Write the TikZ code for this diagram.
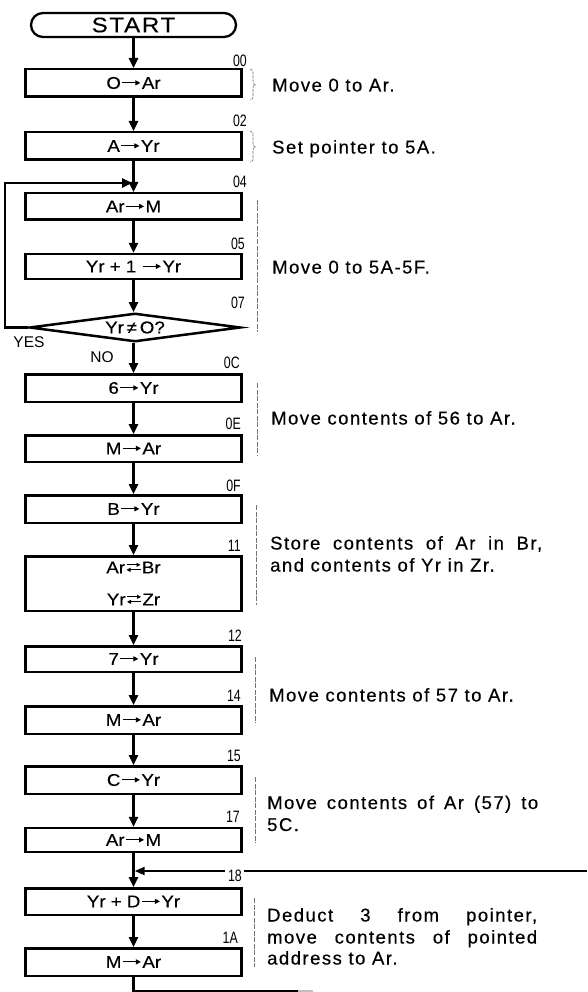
\documentclass[tikz,border=0pt]{standalone}
\usepackage{fontspec}
\setmainfont{Liberation Sans}
\newfontfamily\boxfont{Liberation Sans}[FakeStretch=1.1,FakeBold=0.4]
\newfontfamily\descfont{Liberation Sans}[LetterSpace=8,FakeBold=0.4]
\newfontfamily\numfont{Liberation Sans}[FakeStretch=0.75]
\newfontfamily\startfont{Liberation Sans}[FakeStretch=1.15,LetterSpace=8,FakeBold=0.3]
\usetikzlibrary{arrows.meta,shapes.geometric,shapes.misc}
\newcommand\myto{\kern1pt\tikz[baseline={(0,-6pt)}]\draw[line width=1pt,-{Triangle[length=5pt,width=5pt]}] (0pt,0pt) -- (18pt,0pt);\kern1pt}
\newcommand\myxch{\kern1pt\tikz[baseline={(0,-6pt)}]{\draw[line width=0.9pt,-{Triangle[length=4pt,width=4pt]}] (0pt,2.5pt) -- (14pt,2.5pt);\draw[line width=0.9pt,-{Triangle[length=4pt,width=4pt]}] (14pt,-2.5pt) -- (0pt,-2.5pt);}\kern1pt}
\begin{document}
\begin{tikzpicture}[x=1pt,y=-1pt,
  proc/.style={draw, line width=2.5pt, minimum width=216pt, inner sep=0pt, font=\boxfont\fontsize{17}{17}\selectfont},
  term/.style={draw, rounded rectangle, line width=2.3pt, minimum width=205pt, minimum height=24pt, inner sep=0pt, font=\startfont\fontsize{21}{21}\selectfont},
  decis/.style={draw, diamond, aspect=7, line width=2.5pt, minimum width=211pt, minimum height=28.5pt, inner sep=0pt, font=\boxfont\fontsize{17}{17}\selectfont},
  flow/.style={line width=2.4pt, -{Triangle[length=10pt,width=9pt]}},
  plain/.style={line width=2.2pt},
  addr/.style={font=\numfont\fontsize{16.5}{16.5}\selectfont, anchor=east, inner sep=0pt},
  yn/.style={font=\fontsize{15.5}{15.5}\selectfont, inner sep=0pt},
  desc/.style={font=\descfont\fontsize{18.5}{22}\selectfont, anchor=base west, inner sep=0pt},
  brk/.style={line width=0.7pt, black!55, dash pattern=on 5pt off 1.5pt},
  brace/.style={line width=0.6pt, black!55, dash pattern=on 3pt off 1pt}]
\path[fill=white] (0,0) rectangle (587,992);
\useasboundingbox (0,0) rectangle (587,992);

% nodes
\node[term] (start) at (133.5,25) {START};
\node[proc, minimum height=27.5pt] (b1) at (133.5,83) {O\myto Ar};
\node[proc, minimum height=27.5pt] (b2) at (133.5,146) {A\myto Yr};
\node[proc, minimum height=26.5pt] (b3) at (133.5,206.5) {Ar\myto M};
\node[proc, minimum height=25pt] (b4) at (133.5,266.5) {Yr + 1 \myto Yr};
\node[decis] (dec) at (135,327.5) {Yr\,≠\,O?};
\node[proc, minimum height=27.5pt] (b5) at (133.5,388) {6\myto Yr};
\node[proc, minimum height=26.5pt] (b6) at (133.5,448.5) {M\myto Ar};
\node[proc, minimum height=27.5pt] (b7) at (133.5,509) {B\myto Yr};
\node[proc, minimum height=54.5pt, align=center] (b8) at (133.5,583.5) {Ar\myxch Br\\[15pt]Yr\myxch Zr};
\node[proc, minimum height=25.5pt] (b9) at (133.5,659) {7\myto Yr};
\node[proc, minimum height=27.5pt] (b10) at (133.5,720) {M\myto Ar};
\node[proc, minimum height=27.5pt] (b11) at (133.5,780) {C\myto Yr};
\node[proc, minimum height=24pt] (b12) at (133.5,840) {Ar\myto M};
\node[proc, minimum height=26.5pt] (b13) at (133.5,901.5) {Yr + D\myto Yr};
\node[proc, minimum height=27.5pt] (b14) at (133.5,962) {M\myto Ar};

% address labels
\node[addr] (a00) at (247,61) {00};
\node[addr] (a02) at (247,121) {02};
\node[addr] (a04) at (247,182) {04};
\node[addr] (a05) at (245,244) {05};
\node[addr] (a07) at (245,303) {07};
\node[addr] (a0C) at (240,363) {0C};
\node[addr] (a0E) at (241,424) {0E};
\node[addr] (a0F) at (241,486) {0F};
\node[addr] (a11) at (241,546) {11};
\node[addr] (a12) at (242,636) {12};
\node[addr] (a14) at (241,696) {14};
\node[addr] (a15) at (241,756) {15};
\node[addr] (a17) at (240,817) {17};
\node[addr] (a18) at (242,876) {18};
\node[addr] (a1A) at (238,938) {1A};

\node[yn] (yes) at (29,342) {YES};
\node[yn] (no) at (102,357) {NO};

% connectors
\draw[flow] (start) -- (b1);
\draw[flow] (b1) -- (b2);
\draw[flow] (b2) -- (b3);
\draw[flow] (b3) -- (b4);
\draw[flow] (b4.south) -- (b4.south |- dec.north);
\coordinate (loopc) at (5,183);
\coordinate (lj) at (132,183);
\draw[flow] (dec.west) -| (loopc) -- (lj);
\draw[flow] (dec.south -| b5.north) -- (b5.north);
\draw[flow] (b5) -- (b6);
\draw[flow] (b6) -- (b7);
\draw[flow] (b7) -- (b8);
\draw[flow] (b8) -- (b9);
\draw[flow] (b9) -- (b10);
\draw[flow] (b10) -- (b11);
\draw[flow] (b11) -- (b12);
\draw[flow] (b12) -- (b13);
\draw[flow] (b13) -- (b14);
\coordinate (r18) at (587,871);
\coordinate (j18) at (134.7,871);
\draw[line width=2pt] (r18) -- ([xshift=2pt]a18.east |- r18);
\draw[line width=2pt, -{Triangle[length=10pt,width=8pt]}] ([xshift=-3pt]a18.west |- r18) -- (j18);
\coordinate (bot) at (133.5,991);
\coordinate (botm) at (298,991);
\coordinate (botr) at (313,991);
\draw[plain] (b14.south) -- (bot) -- (botm);
\draw[line width=2pt, black!25] (botm) -- (botr);

% right-hand brackets
\draw[brace] (250,69) .. controls (253,70) .. (253,75) -- (253,81) .. controls (253,84) .. (255.5,85) .. controls (253,86) .. (253,89) -- (253,95) .. controls (253,99) .. (250,100);
\draw[brace] (250,131) .. controls (253,132) .. (253,137) -- (253,143) .. controls (253,146) .. (255.5,147) .. controls (253,148) .. (253,151) -- (253,157) .. controls (253,161) .. (250,162);
\draw[brk] (257,200) -- (257,332);
\draw[brk] (257,383) -- (257,455);
\draw[brk] (256,505) -- (256,605);
\draw[brk] (255,657) -- (255,723);
\draw[brk] (255,777) -- (255,843);
\draw[brk] (254,898) -- (254,967);

% descriptions
\node[desc] (d1) at (272,91.5) {Move 0 to Ar.};
\node[desc] (d2) at (272,153.5) {Set pointer to 5A.};
\node[desc] (d3) at (272,273.5) {Move 0 to 5A-5F.};
\node[desc] (d4) at (271,424.5) {Move contents of 56 to Ar.};
\node[desc] (d5a) at (270,549.5) {\makebox[272pt][s]{Store contents of Ar in Br,}};
\node[desc] (d5b) at (270,571.5) {and contents of Yr in Zr.};
\node[desc] (d6) at (269,701.5) {Move contents of 57 to Ar.};
\node[desc] (d7a) at (267,809) {\makebox[271pt][s]{Move contents of Ar (57) to}};
\node[desc] (d7b) at (267,831) {5C.};
\node[desc] (d8a) at (267,921.5) {\makebox[270pt][s]{Deduct 3 from pointer,}};
\node[desc] (d8b) at (267,943.5) {\makebox[270pt][s]{move contents of pointed}};
\node[desc] (d8c) at (267,964.5) {address to Ar.};
\end{tikzpicture}
\end{document}
